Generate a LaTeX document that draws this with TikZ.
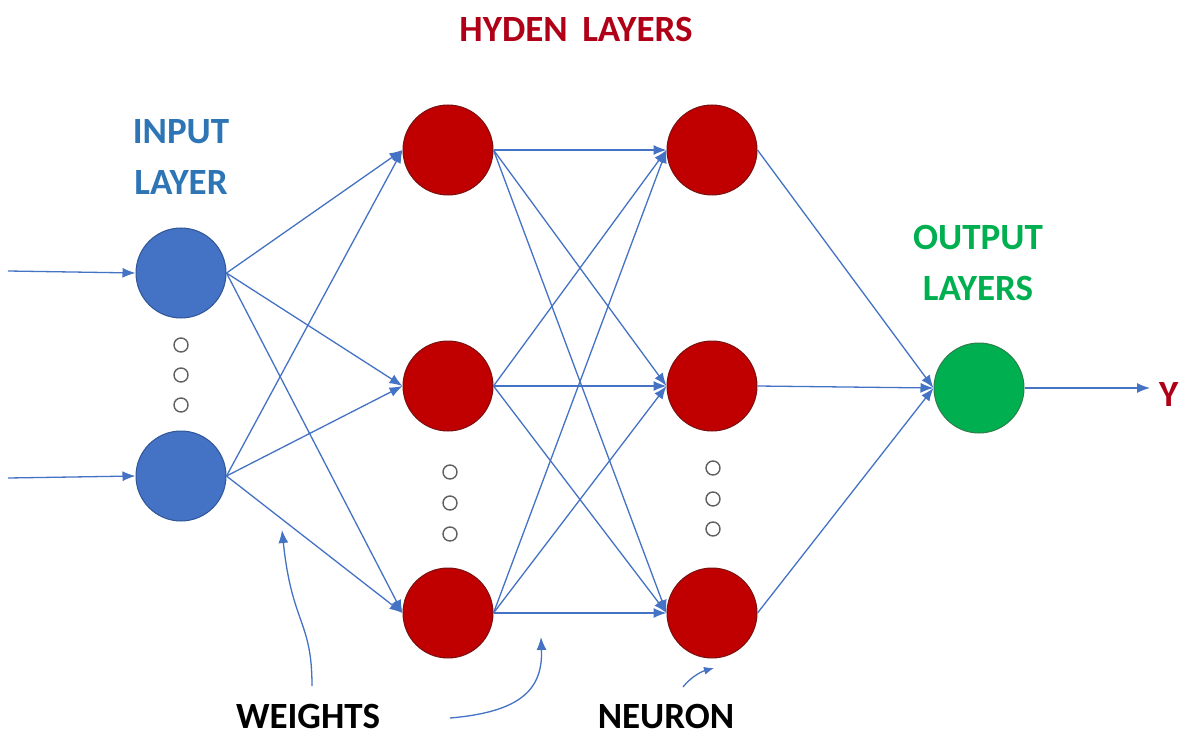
\documentclass[tikz,border=0pt]{standalone}
\usepackage{fontspec}
\setmainfont{Carlito}
\usetikzlibrary{arrows.meta}
\definecolor{lineblue}{HTML}{4472C4}
\definecolor{inblue}{HTML}{4472C4}
\definecolor{inborder}{HTML}{2F5597}
\definecolor{hidred}{HTML}{C00000}
\definecolor{hidborder}{HTML}{7A1010}
\definecolor{outgreen}{HTML}{00B050}
\definecolor{outborder}{HTML}{2E7D4A}
\definecolor{lblblue}{HTML}{2E75B6}
\definecolor{lblred}{HTML}{B00018}
\definecolor{lblgreen}{HTML}{00B050}
\definecolor{dotgray}{HTML}{606060}
\begin{document}
\begin{tikzpicture}[x=1pt,y=-1pt,
  neuronin/.style={circle,minimum size=90pt,inner sep=0pt,fill=inblue,draw=inborder,line width=1pt},
  neuronhid/.style={circle,minimum size=90pt,inner sep=0pt,fill=hidred,draw=hidborder,line width=1pt},
  neuronout/.style={circle,minimum size=90pt,inner sep=0pt,fill=outgreen,draw=outborder,line width=1pt},
  smalldot/.style={circle,minimum size=14pt,inner sep=0pt,draw=dotgray,line width=1.4pt},
  conn/.style={draw=lineblue,line width=1.3pt,-{Latex[length=13pt,width=10pt]}},
  lbl/.style={font=\fontsize{37}{51}\selectfont\bfseries,align=center,inner sep=0pt}
]
\useasboundingbox (0,0) rectangle (1180,738);
\fill[white] (0,0) rectangle (1180,738);

% nodes
\node[neuronin] (i1) at (181,273) {};
\node[neuronin] (i2) at (181,476) {};
\node[neuronhid] (h11) at (448,150) {};
\node[neuronhid] (h12) at (448,386) {};
\node[neuronhid] (h13) at (448,613) {};
\node[neuronhid] (h21) at (712,150) {};
\node[neuronhid] (h22) at (712,386) {};
\node[neuronhid] (h23) at (712,613) {};
\node[neuronout] (o) at (979,388) {};

% dots
\foreach \y [count=\k] in {345,375,405} \node[smalldot] (di\k) at (181,\y) {};
\foreach \y [count=\k] in {472,503,534} \node[smalldot] (dh\k) at (450,\y) {};
\foreach \y [count=\k] in {468,499,529} \node[smalldot] (dg\k) at (713,\y) {};

% inputs and outputs
\coordinate (x1) at (8,271);
\coordinate (x2) at (8,478);
\coordinate (yout) at (1150,388);
\draw[conn] (x1) -- (i1.west);
\draw[conn] (x2) -- (i2.west);
\draw[conn] (o.east) -- (yout);

% connections
\foreach \a in {i1,i2}
  \foreach \b in {h11,h12,h13}
    \draw[conn] (\a.east) -- (\b.west);
\foreach \a in {h11,h12,h13}
  \foreach \b in {h21,h22,h23}
    \draw[conn] (\a.east) -- (\b.west);
\foreach \a in {h21,h22,h23}
  \draw[conn] (\a.east) -- (o.west);

% labels
\node[lbl,text=lblblue] (linput) at (181,157) {INPUT\\LAYER};
\node[lbl,text=lblred] (lhid) at (576,29) {HYDEN\, LAYERS};
\node[lbl,text=lblgreen] (lout) at (978,263) {OUTPUT\\LAYERS};
\node[lbl,text=black] (lw) at (308,716) {WEIGHTS};
\node[lbl,text=black] (ln) at (666,716) {NEURON};
\node[lbl,text=lblred,anchor=west] (ly) at (1159,395) {Y};

% annotation arrows
\coordinate (wa1) at (312,686);
\coordinate (wa2) at (282,530);
\draw[conn] (wa1) .. controls (312,620) and (292,625) .. (wa2);
\coordinate (wb1) at (450,718);
\coordinate (wb2) at (541,637);
\draw[conn] (wb1) .. controls (520,712) and (543,690) .. (wb2);
\coordinate (nn1) at (683,687);
\coordinate (nn2) at (714,668);
\draw[conn,-{Latex[length=10pt,width=8pt]}] (nn1) .. controls (690,678) and (700,672) .. (nn2);
\end{tikzpicture}
\end{document}
